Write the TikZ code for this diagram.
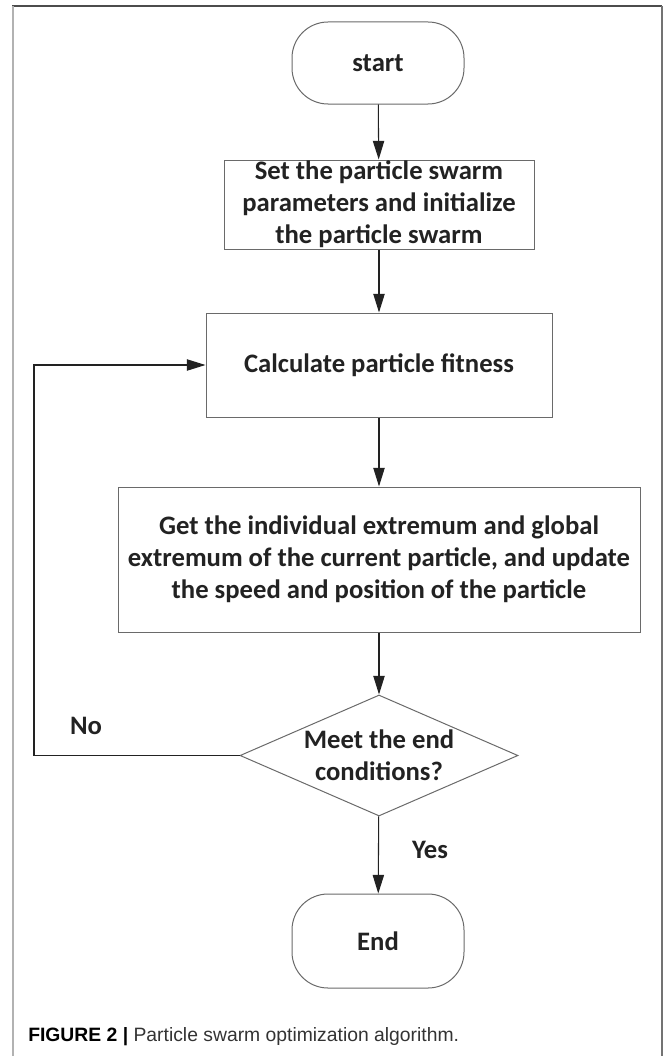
\documentclass[tikz,border=0pt]{standalone}
\usepackage{fontspec}
\setmainfont{Carlito}
\newfontfamily\capfont{Liberation Sans}
\usetikzlibrary{shapes.geometric,arrows.meta}
\definecolor{boxgray}{HTML}{6A6A6A}
\definecolor{inkgray}{HTML}{222222}
\tikzset{
  stepbox/.style={draw=boxgray, line width=0.75pt, fill=white, align=center, inner sep=0pt,
    font=\bfseries\fontsize{20}{24}\selectfont, text=inkgray},
  term/.style={stepbox, rounded corners=27pt, minimum width=129pt},
  decision/.style={stepbox, diamond, aspect=2.3},
  flow/.style={-{Triangle[length=14pt,width=8.5pt]}, line width=0.8pt, draw=inkgray},
  answer/.style={font=\bfseries\fontsize{20}{24}\selectfont, text=inkgray, inner sep=0pt}
}
\begin{document}
\begin{tikzpicture}[x=0.75pt,y=-0.75pt]
\useasboundingbox (0,0) rectangle (665,1056);
% frame
\draw[black!70, line width=1.2pt] (12,6) -- (662,6);
\draw[black!30, line width=1.6pt] (13,6) -- (13,1056);
\draw[black!55, line width=1.2pt] (662,6) -- (662,1056);

\node[term, minimum height=61.5pt] (start) at (378,63) {start};
\node[stepbox, minimum width=232.5pt, minimum height=66.75pt] (init) at (379,204.5)
  {Set the particle swarm\\parameters and initialize\\the particle swarm};
\node[stepbox, minimum width=259.5pt, minimum height=78pt] (fit) at (379,365) {Calculate particle fitness};
\node[stepbox, minimum width=391.5pt, minimum height=108.75pt] (upd) at (379,559.5)
  {Get the individual extremum and global\\extremum of the current particle, and update\\the speed and position of the particle};
\node[decision, minimum width=208.5pt, minimum height=90.75pt] (test) at (379,755.5) {Meet the end\\conditions?};
\node[term, minimum height=70.5pt] (stop) at (378,941) {End};

\node[answer] (no) at (86,726) {No};
\node[answer] (yes) at (430,850) {Yes};

\coordinate (back) at (34,755.5);

\draw[flow] (start) -- (init);
\draw[flow] (init) -- (fit);
\draw[flow] (fit) -- (upd);
\draw[flow] (upd) -- (test);
\draw[flow] (test) -- (stop);
\draw[flow] (test.west) -- (back) |- (fit.west);

\node[anchor=west, inner sep=0pt, font=\capfont\fontsize{14.5}{17}\selectfont, text=black!80] (cap) at (28,1037)
  {\textbf{\color{black}FIGURE 2 |} Particle swarm optimization algorithm.};
\end{tikzpicture}
\end{document}
